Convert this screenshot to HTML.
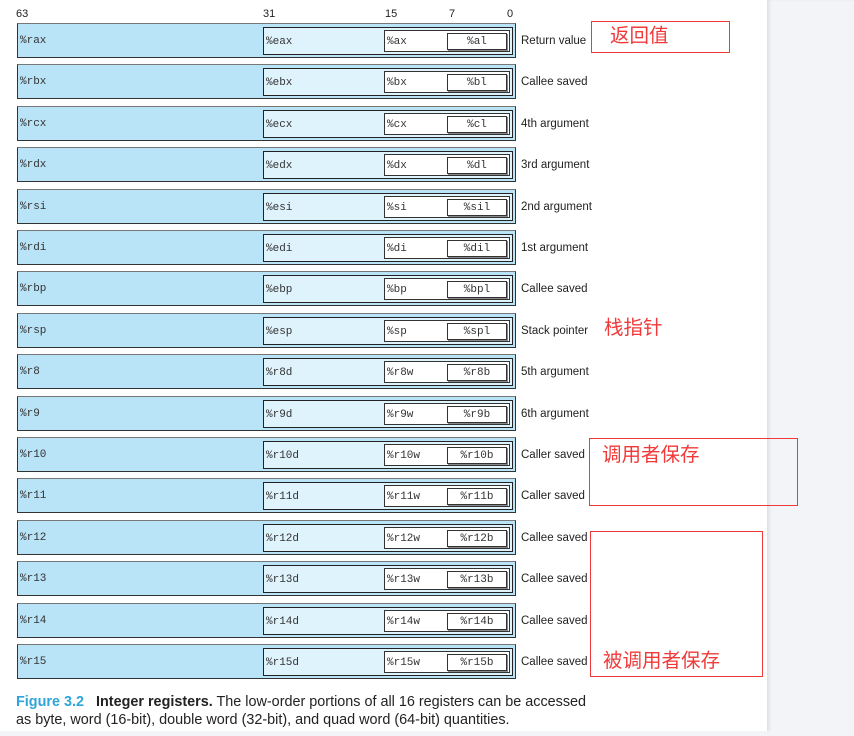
<!DOCTYPE html>
<html><head><meta charset="utf-8"><style>
body{margin:0;width:854px;height:736px;background:#fff;position:relative;overflow:hidden;font-family:"Liberation Sans",sans-serif}
.side{position:absolute;left:767px;top:0;width:87px;height:736px;background:#f3f4f7;box-shadow:inset 3px 0 3px -1px #dcdde2}
.bot{position:absolute;left:0;top:731px;width:854px;height:5px;background:#f3f4f7}
.r{position:absolute;left:17px;width:497px;height:33px;border:1px solid #333;border-top-color:#777;background:#b9e3f7}
.e{position:absolute;left:245px;top:3px;width:248px;height:26px;border:1px solid #222;background:#dff3fc}
.x{position:absolute;left:120px;top:2px;width:124px;height:20px;border:1px solid #333;background:#fff}
.l{position:absolute;left:62px;top:2px;width:58px;height:15px;border:1px solid #333;box-shadow:1px 1px 0 #888;background:#fff;text-align:center}
.r span,.e span,.x span{position:absolute;left:2px;top:1px}
.t{font-family:"Liberation Mono",monospace;font-size:11px;color:#333;line-height:33px}
.e .t{line-height:26px}
.x .t{line-height:20px}
.l{font-family:"Liberation Mono",monospace;font-size:11px;color:#333;line-height:17px}
.c{position:absolute;left:521px;font-size:11.5px;color:#222;line-height:14px}
.n{position:absolute;top:8px;font-size:11px;color:#222}
.rb{position:absolute;border:1px solid #f03a3a}
.cn{position:absolute;font-family:"Liberation Sans","Noto Sans CJK SC",sans-serif;font-size:19.5px;color:#f03a3a;line-height:22px}
.cap{position:absolute;left:16px;font-size:14.4px;color:#222;line-height:17px;white-space:nowrap}
</style></head><body>
<div class="side"></div><div class="bot"></div>
<div class="n" style="left:16px">63</div>
<div class="n" style="left:263px">31</div>
<div class="n" style="left:385px">15</div>
<div class="n" style="left:449px">7</div>
<div class="n" style="left:507px">0</div>

<div class="r" style="top:23px"><span class="t">%rax</span><div class="e"><span class="t">%eax</span><div class="x"><span class="t">%ax</span><div class="l">%al</div></div></div></div><div class="c" style="top:34px">Return value</div>
<div class="r" style="top:64px"><span class="t">%rbx</span><div class="e"><span class="t">%ebx</span><div class="x"><span class="t">%bx</span><div class="l">%bl</div></div></div></div><div class="c" style="top:75px">Callee saved</div>
<div class="r" style="top:106px"><span class="t">%rcx</span><div class="e"><span class="t">%ecx</span><div class="x"><span class="t">%cx</span><div class="l">%cl</div></div></div></div><div class="c" style="top:117px">4th argument</div>
<div class="r" style="top:147px"><span class="t">%rdx</span><div class="e"><span class="t">%edx</span><div class="x"><span class="t">%dx</span><div class="l">%dl</div></div></div></div><div class="c" style="top:158px">3rd argument</div>
<div class="r" style="top:189px"><span class="t">%rsi</span><div class="e"><span class="t">%esi</span><div class="x"><span class="t">%si</span><div class="l">%sil</div></div></div></div><div class="c" style="top:200px">2nd argument</div>
<div class="r" style="top:230px"><span class="t">%rdi</span><div class="e"><span class="t">%edi</span><div class="x"><span class="t">%di</span><div class="l">%dil</div></div></div></div><div class="c" style="top:241px">1st argument</div>
<div class="r" style="top:271px"><span class="t">%rbp</span><div class="e"><span class="t">%ebp</span><div class="x"><span class="t">%bp</span><div class="l">%bpl</div></div></div></div><div class="c" style="top:282px">Callee saved</div>
<div class="r" style="top:313px"><span class="t">%rsp</span><div class="e"><span class="t">%esp</span><div class="x"><span class="t">%sp</span><div class="l">%spl</div></div></div></div><div class="c" style="top:324px">Stack pointer</div>
<div class="r" style="top:354px"><span class="t">%r8</span><div class="e"><span class="t">%r8d</span><div class="x"><span class="t">%r8w</span><div class="l">%r8b</div></div></div></div><div class="c" style="top:365px">5th argument</div>
<div class="r" style="top:396px"><span class="t">%r9</span><div class="e"><span class="t">%r9d</span><div class="x"><span class="t">%r9w</span><div class="l">%r9b</div></div></div></div><div class="c" style="top:407px">6th argument</div>
<div class="r" style="top:437px"><span class="t">%r10</span><div class="e"><span class="t">%r10d</span><div class="x"><span class="t">%r10w</span><div class="l">%r10b</div></div></div></div><div class="c" style="top:448px">Caller saved</div>
<div class="r" style="top:478px"><span class="t">%r11</span><div class="e"><span class="t">%r11d</span><div class="x"><span class="t">%r11w</span><div class="l">%r11b</div></div></div></div><div class="c" style="top:489px">Caller saved</div>
<div class="r" style="top:520px"><span class="t">%r12</span><div class="e"><span class="t">%r12d</span><div class="x"><span class="t">%r12w</span><div class="l">%r12b</div></div></div></div><div class="c" style="top:531px">Callee saved</div>
<div class="r" style="top:561px"><span class="t">%r13</span><div class="e"><span class="t">%r13d</span><div class="x"><span class="t">%r13w</span><div class="l">%r13b</div></div></div></div><div class="c" style="top:572px">Callee saved</div>
<div class="r" style="top:603px"><span class="t">%r14</span><div class="e"><span class="t">%r14d</span><div class="x"><span class="t">%r14w</span><div class="l">%r14b</div></div></div></div><div class="c" style="top:614px">Callee saved</div>
<div class="r" style="top:644px"><span class="t">%r15</span><div class="e"><span class="t">%r15d</span><div class="x"><span class="t">%r15w</span><div class="l">%r15b</div></div></div></div><div class="c" style="top:655px">Callee saved</div>

<div class="rb" style="left:591px;top:21px;width:137px;height:30px"></div>
<div class="cn" style="left:610px;top:25px">返回值</div>
<div class="cn" style="left:604px;top:317px">栈指针</div>
<div class="rb" style="left:589px;top:438px;width:207px;height:66px"></div>
<div class="cn" style="left:602px;top:444px">调用者保存</div>
<div class="rb" style="left:590px;top:531px;width:171px;height:144px"></div>
<div class="cn" style="left:603px;top:650px">被调用者保存</div>

<div class="cap" style="top:694px"><span style="color:#2fa4d9;font-weight:bold">Figure 3.2</span>&nbsp;&nbsp; <b>Integer registers.</b> The low-order portions of all 16 registers can be accessed</div>
<div class="cap" style="top:712px">as byte, word (16-bit), double word (32-bit), and quad word (64-bit) quantities.</div>
</body></html>
